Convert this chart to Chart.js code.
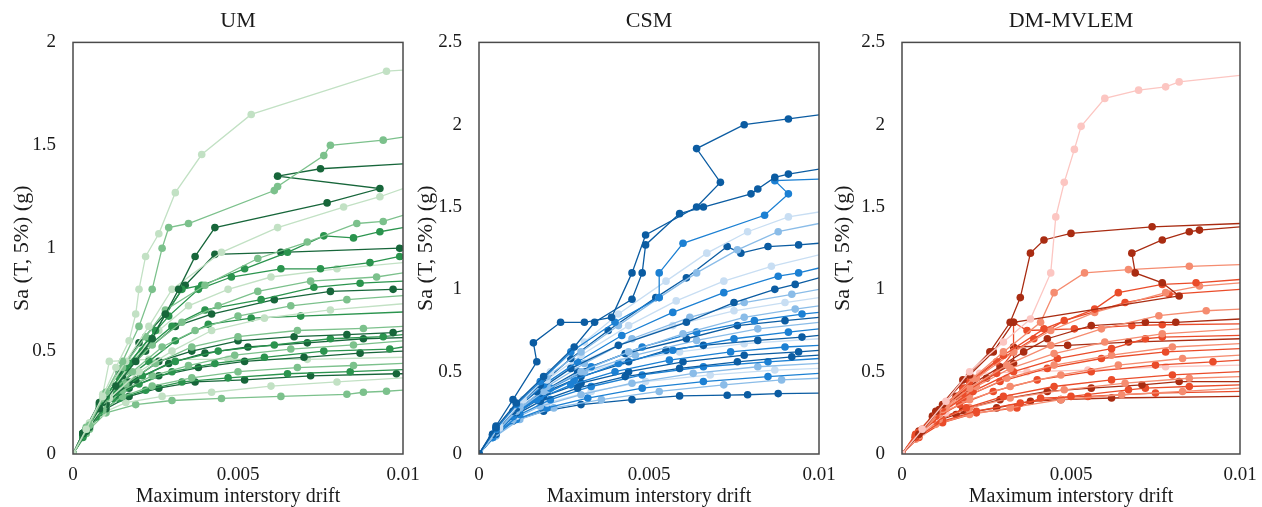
<!DOCTYPE html>
<html>
<head>
<meta charset="utf-8">
<script src="https://cdn.jsdelivr.net/npm/chart.js@4.4.1/dist/chart.umd.min.js"></script>
<style>
  html, body { margin: 0; padding: 0; background: #fff; }
  #wrap { position: relative; width: 1262px; height: 507px; overflow: hidden; }
  .panel { position: absolute; top: 0; height: 507px; }
</style>
</head>
<body>
<div id="wrap">
  <div class="panel" style="left:0;width:420px"><canvas id="um" width="420" height="507"></canvas></div>
  <div class="panel" style="left:410px;width:430px"><canvas id="csm" width="430" height="507"></canvas></div>
  <div class="panel" style="left:830px;width:432px"><canvas id="dm" width="432" height="507"></canvas></div>
</div>
<script>
// tick values and labels
const xTicks = [0, 0.005, 0.01];
const xTickLabels = ['0', '0.005', '0.01'];
const umYTicks = [0, 0.5, 1, 1.5, 2];
const umYLabels = ['0', '0.5', '1', '1.5', '2'];
const wideYTicks = [0, 0.5, 1, 1.5, 2, 2.5];
const wideYLabels = ['0', '0.5', '1', '1.5', '2', '2.5'];

// IDA curves, [drift, Sa] pairs
const umCurves = [
  [[0,0],[0.0004,0.12],[0.0009,0.28],[0.0013,0.42],[0.0017,0.55],[0.0019,0.68],[0.002,0.8],[0.0022,0.96],[0.0026,1.07],[0.0031,1.27],[0.0039,1.455],[0.0054,1.65],[0.0095,1.86],[0.01,1.865]],
  [[0,0],[0.0005,0.14],[0.001,0.3],[0.0015,0.45],[0.002,0.62],[0.0024,0.8],[0.0027,1.0],[0.0029,1.1],[0.0035,1.12],[0.0061,1.28],[0.0062,1.3],[0.0076,1.45],[0.0078,1.5],[0.0094,1.525],[0.01,1.54]],
  [[0,0],[0.0003,0.1],[0.0008,0.22],[0.0013,0.33],[0.0019,0.45],[0.0024,0.56],[0.0028,0.68],[0.0032,0.8],[0.0037,0.96],[0.0043,1.1],[0.0077,1.22],[0.0093,1.29],[0.0062,1.35],[0.0075,1.386],[0.01,1.41]],
  [[0,0],[0.0005,0.15],[0.001,0.3],[0.0016,0.45],[0.0023,0.62],[0.003,0.8],[0.0045,0.98],[0.0062,1.1],[0.0082,1.2],[0.0093,1.25],[0.01,1.29]],
  [[0,0],[0.0004,0.13],[0.0009,0.27],[0.0015,0.42],[0.0022,0.57],[0.0028,0.7],[0.004,0.82],[0.0056,0.95],[0.0071,1.03],[0.0086,1.12],[0.0094,1.13],[0.01,1.16]],
  [[0,0],[0.0004,0.12],[0.001,0.28],[0.0017,0.44],[0.0025,0.6],[0.0033,0.8],[0.0039,0.82],[0.0052,0.9],[0.0065,0.98],[0.0076,1.06],[0.0085,1.05],[0.0093,1.08],[0.01,1.1]],
  [[0,0],[0.0003,0.1],[0.0008,0.25],[0.0014,0.4],[0.002,0.54],[0.0028,0.68],[0.0034,0.82],[0.0043,0.97],[0.0063,0.98],[0.0099,1.0],[0.01,1.01]],
  [[0,0],[0.0005,0.14],[0.001,0.28],[0.0016,0.42],[0.0023,0.56],[0.0029,0.67],[0.0038,0.8],[0.0048,0.86],[0.0063,0.9],[0.0075,0.9],[0.009,0.93],[0.0099,0.96],[0.01,0.97]],
  [[0,0],[0.0005,0.15],[0.0011,0.3],[0.0018,0.45],[0.0026,0.6],[0.0035,0.72],[0.0047,0.8],[0.006,0.86],[0.008,0.9],[0.01,0.93]],
  [[0,0],[0.0004,0.12],[0.0009,0.26],[0.0016,0.4],[0.0024,0.53],[0.0033,0.64],[0.0044,0.72],[0.0056,0.79],[0.0072,0.84],[0.0092,0.86],[0.01,0.88]],
  [[0,0],[0.0003,0.1],[0.0008,0.24],[0.0014,0.37],[0.0021,0.5],[0.003,0.62],[0.004,0.7],[0.0057,0.75],[0.0073,0.81],[0.0087,0.83],[0.01,0.84]],
  [[0,0],[0.0004,0.12],[0.0009,0.25],[0.0015,0.38],[0.0022,0.5],[0.0031,0.62],[0.0042,0.68],[0.0061,0.75],[0.0078,0.79],[0.0097,0.8],[0.01,0.8]],
  [[0,0],[0.0005,0.14],[0.001,0.27],[0.0018,0.4],[0.0027,0.52],[0.0037,0.6],[0.005,0.67],[0.0066,0.72],[0.0083,0.75],[0.01,0.77]],
  [[0,0],[0.0004,0.12],[0.0011,0.27],[0.002,0.4],[0.003,0.5],[0.0042,0.6],[0.0058,0.66],[0.0078,0.7],[0.01,0.73]],
  [[0,0],[0.0003,0.1],[0.0008,0.23],[0.0014,0.34],[0.0023,0.45],[0.0031,0.55],[0.0041,0.63],[0.0054,0.66],[0.0069,0.67],[0.01,0.69]],
  [[0,0],[0.0004,0.12],[0.0009,0.24],[0.0016,0.34],[0.0025,0.44],[0.0036,0.52],[0.005,0.57],[0.0068,0.6],[0.0088,0.61],[0.01,0.62]],
  [[0,0],[0.0004,0.11],[0.001,0.25],[0.0017,0.35],[0.0026,0.45],[0.0036,0.5],[0.005,0.55],[0.0067,0.57],[0.0083,0.58],[0.0097,0.59],[0.01,0.6]],
  [[0,0],[0.0003,0.09],[0.0008,0.21],[0.0013,0.3],[0.0021,0.38],[0.0031,0.45],[0.0044,0.5],[0.0061,0.53],[0.0078,0.56],[0.0094,0.57],[0.01,0.58]],
  [[0,0],[0.0005,0.13],[0.0011,0.27],[0.0019,0.36],[0.0029,0.44],[0.004,0.49],[0.0053,0.52],[0.0071,0.54],[0.0088,0.56],[0.01,0.565]],
  [[0,0],[0.0004,0.11],[0.0009,0.22],[0.0015,0.31],[0.0024,0.38],[0.0035,0.43],[0.0049,0.48],[0.0066,0.51],[0.0085,0.53],[0.01,0.55]],
  [[0,0],[0.0003,0.08],[0.0007,0.18],[0.0012,0.27],[0.002,0.34],[0.003,0.4],[0.0043,0.44],[0.0058,0.47],[0.0076,0.5],[0.0096,0.51],[0.01,0.52]],
  [[0,0],[0.0004,0.12],[0.001,0.24],[0.0017,0.32],[0.0026,0.38],[0.0038,0.42],[0.0052,0.45],[0.007,0.47],[0.0087,0.49],[0.01,0.5]],
  [[0,0],[0.0005,0.14],[0.0009,0.29],[0.0011,0.45],[0.0023,0.46],[0.0047,0.46],[0.0071,0.46],[0.01,0.47]],
  [[0,0],[0.0004,0.1],[0.0009,0.21],[0.0015,0.28],[0.0024,0.33],[0.0036,0.37],[0.005,0.4],[0.0068,0.42],[0.0085,0.43],[0.01,0.44]],
  [[0,0],[0.0003,0.09],[0.0008,0.2],[0.0014,0.27],[0.0022,0.31],[0.0033,0.35],[0.0047,0.37],[0.0065,0.39],[0.0084,0.4],[0.01,0.41]],
  [[0,0],[0.0004,0.11],[0.001,0.22],[0.0017,0.28],[0.0026,0.32],[0.0037,0.35],[0.0052,0.36],[0.0072,0.38],[0.0098,0.39],[0.01,0.39]],
  [[0,0],[0.0004,0.1],[0.0009,0.2],[0.0016,0.25],[0.0027,0.28],[0.0042,0.3],[0.006,0.33],[0.008,0.35],[0.01,0.37]],
  [[0,0],[0.0005,0.12],[0.001,0.2],[0.0019,0.24],[0.003,0.26],[0.0045,0.27],[0.0063,0.28],[0.0083,0.29],[0.0088,0.3],[0.0095,0.305],[0.01,0.31]]
];

const csmCurves = [
  [[0,0],[0.0005,0.17],[0.001,0.33],[0.0017,0.56],[0.0016,0.675],[0.0024,0.8],[0.0031,0.8],[0.0039,0.83],[0.0045,1.1],[0.0049,1.33],[0.0064,1.5],[0.0071,1.65],[0.0064,1.855],[0.0078,2.0],[0.0091,2.035],[0.01,2.06]],
  [[0,0],[0.0005,0.16],[0.0011,0.31],[0.0019,0.47],[0.0028,0.65],[0.0034,0.8],[0.0045,0.94],[0.0048,1.1],[0.0049,1.27],[0.0059,1.46],[0.0066,1.5],[0.008,1.58],[0.0082,1.61],[0.0087,1.68],[0.0091,1.7],[0.01,1.73]],
  [[0,0],[0.0005,0.15],[0.0011,0.3],[0.0018,0.44],[0.0027,0.62],[0.004,0.8],[0.0053,0.95],[0.0053,1.1],[0.006,1.28],[0.0084,1.45],[0.0091,1.58],[0.0087,1.66],[0.01,1.67]],
  [[0,0],[0.0006,0.17],[0.0013,0.33],[0.0021,0.5],[0.0031,0.68],[0.0041,0.85],[0.0055,1.05],[0.0067,1.22],[0.0079,1.35],[0.0091,1.44],[0.01,1.47]],
  [[0,0],[0.0005,0.15],[0.0012,0.3],[0.002,0.47],[0.003,0.62],[0.0041,0.78],[0.0053,0.95],[0.0064,1.1],[0.0076,1.24],[0.0088,1.35],[0.01,1.4]],
  [[0,0],[0.0005,0.14],[0.0011,0.28],[0.0018,0.42],[0.0027,0.58],[0.0038,0.75],[0.0052,0.95],[0.0061,1.07],[0.0073,1.26],[0.0077,1.22],[0.0085,1.26],[0.0094,1.27],[0.01,1.28]],
  [[0,0],[0.0006,0.16],[0.0012,0.3],[0.002,0.45],[0.003,0.6],[0.0044,0.78],[0.0058,0.93],[0.0072,1.05],[0.0086,1.14],[0.01,1.21]],
  [[0,0],[0.0005,0.15],[0.0011,0.28],[0.0019,0.42],[0.0029,0.56],[0.0042,0.72],[0.0057,0.86],[0.0072,0.98],[0.0088,1.08],[0.0094,1.1],[0.01,1.13]],
  [[0,0],[0.0004,0.12],[0.001,0.26],[0.0017,0.38],[0.0027,0.52],[0.0041,0.66],[0.0061,0.8],[0.0075,0.92],[0.0087,1.0],[0.0093,1.03],[0.01,1.07]],
  [[0,0],[0.0005,0.14],[0.0012,0.28],[0.002,0.41],[0.0031,0.55],[0.0045,0.7],[0.0062,0.83],[0.0078,0.92],[0.0092,0.97],[0.01,1.0]],
  [[0,0],[0.0006,0.16],[0.0011,0.3],[0.0019,0.42],[0.0028,0.54],[0.0041,0.66],[0.0057,0.78],[0.0075,0.87],[0.009,0.92],[0.01,0.95]],
  [[0,0],[0.0005,0.13],[0.0011,0.26],[0.0019,0.38],[0.003,0.5],[0.0044,0.62],[0.006,0.73],[0.0078,0.83],[0.0093,0.88],[0.01,0.9]],
  [[0,0],[0.0005,0.13],[0.0012,0.27],[0.0021,0.4],[0.0033,0.53],[0.0048,0.65],[0.0064,0.74],[0.0081,0.81],[0.0095,0.85],[0.01,0.86]],
  [[0,0],[0.0004,0.12],[0.001,0.25],[0.0018,0.37],[0.0029,0.5],[0.0043,0.61],[0.0061,0.7],[0.0076,0.78],[0.009,0.81],[0.01,0.83]],
  [[0,0],[0.0006,0.15],[0.0012,0.28],[0.002,0.39],[0.0031,0.5],[0.0046,0.6],[0.0064,0.69],[0.0082,0.76],[0.01,0.8]],
  [[0,0],[0.0004,0.11],[0.001,0.24],[0.0018,0.35],[0.0028,0.45],[0.0041,0.55],[0.0057,0.63],[0.0075,0.7],[0.0091,0.74],[0.01,0.76]],
  [[0,0],[0.0005,0.13],[0.0012,0.27],[0.002,0.38],[0.003,0.47],[0.0044,0.56],[0.0055,0.63],[0.0066,0.66],[0.0082,0.69],[0.0095,0.71],[0.01,0.72]],
  [[0,0],[0.0005,0.14],[0.0012,0.28],[0.0019,0.39],[0.0029,0.48],[0.0042,0.56],[0.0059,0.62],[0.0078,0.67],[0.01,0.7]],
  [[0,0],[0.0004,0.1],[0.001,0.23],[0.0017,0.33],[0.0027,0.42],[0.004,0.5],[0.0056,0.57],[0.0074,0.62],[0.009,0.65],[0.01,0.66]],
  [[0,0],[0.0005,0.12],[0.0011,0.25],[0.0019,0.35],[0.003,0.43],[0.0044,0.5],[0.006,0.56],[0.0078,0.6],[0.0094,0.62],[0.01,0.63]],
  [[0,0],[0.0004,0.11],[0.001,0.23],[0.0018,0.32],[0.0029,0.4],[0.0043,0.47],[0.0059,0.52],[0.0076,0.56],[0.0092,0.59],[0.01,0.6]],
  [[0,0],[0.0005,0.12],[0.0012,0.24],[0.0021,0.33],[0.0033,0.41],[0.0048,0.48],[0.0066,0.53],[0.0085,0.56],[0.01,0.58]],
  [[0,0],[0.0004,0.1],[0.001,0.21],[0.0018,0.29],[0.003,0.36],[0.0045,0.43],[0.0063,0.49],[0.0082,0.53],[0.01,0.55]],
  [[0,0],[0.0005,0.12],[0.0011,0.23],[0.002,0.31],[0.0033,0.38],[0.0049,0.44],[0.0068,0.48],[0.0087,0.51],[0.01,0.52]],
  [[0,0],[0.0004,0.1],[0.0011,0.21],[0.002,0.28],[0.0032,0.34],[0.0048,0.4],[0.0066,0.44],[0.0085,0.47],[0.01,0.49]],
  [[0,0],[0.0005,0.11],[0.0012,0.21],[0.0022,0.28],[0.0036,0.33],[0.0053,0.38],[0.0072,0.42],[0.0089,0.45],[0.01,0.46]],
  [[0,0],[0.0004,0.1],[0.001,0.2],[0.0019,0.26],[0.003,0.3],[0.0045,0.33],[0.0059,0.353],[0.0073,0.357],[0.0079,0.36],[0.0088,0.367],[0.01,0.37]]
];

const dmCurves = [
  [[0,0],[0.0006,0.15],[0.0013,0.32],[0.002,0.5],[0.003,0.68],[0.0038,0.82],[0.0044,1.1],[0.00455,1.44],[0.0048,1.65],[0.0051,1.85],[0.0053,1.99],[0.006,2.16],[0.007,2.21],[0.0078,2.23],[0.0082,2.26],[0.01,2.3]],
  [[0,0],[0.0005,0.12],[0.001,0.26],[0.0018,0.45],[0.0026,0.62],[0.0032,0.8],[0.0035,0.95],[0.0038,1.22],[0.0042,1.3],[0.005,1.34],[0.0074,1.38],[0.01,1.4]],
  [[0,0],[0.0006,0.14],[0.0012,0.3],[0.002,0.48],[0.0027,0.62],[0.0033,0.8],[0.0082,0.96],[0.0077,1.04],[0.0069,1.1],[0.0068,1.22],[0.0077,1.3],[0.0085,1.35],[0.0088,1.36],[0.01,1.38]],
  [[0,0],[0.0006,0.15],[0.0013,0.3],[0.0021,0.46],[0.003,0.62],[0.0041,0.8],[0.0045,0.98],[0.0054,1.1],[0.0067,1.12],[0.0085,1.14],[0.01,1.15]],
  [[0,0],[0.0005,0.13],[0.0012,0.28],[0.002,0.44],[0.003,0.6],[0.0042,0.76],[0.0057,0.88],[0.0064,0.98],[0.0077,1.03],[0.0087,1.04],[0.01,1.06]],
  [[0,0],[0.0006,0.15],[0.0013,0.3],[0.0022,0.46],[0.0033,0.62],[0.0044,0.75],[0.0057,0.86],[0.0078,0.98],[0.0088,1.02],[0.01,1.04]],
  [[0,0],[0.0004,0.12],[0.001,0.25],[0.0018,0.4],[0.0028,0.56],[0.0039,0.7],[0.0048,0.81],[0.0066,0.92],[0.0079,0.97],[0.01,1.0]],
  [[0,0],[0.0005,0.13],[0.0012,0.27],[0.002,0.4],[0.0031,0.54],[0.0044,0.66],[0.0059,0.76],[0.0076,0.84],[0.009,0.87],[0.01,0.88]],
  [[0,0],[0.0005,0.14],[0.0011,0.27],[0.0019,0.4],[0.0029,0.53],[0.0036,0.62],[0.0043,0.7],[0.0056,0.78],[0.0072,0.8],[0.0081,0.8],[0.01,0.82]],
  [[0,0],[0.0004,0.11],[0.001,0.24],[0.0018,0.37],[0.0028,0.49],[0.0033,0.62],[0.0033,0.8],[0.0037,0.75],[0.0051,0.76],[0.0068,0.78],[0.0077,0.785],[0.01,0.79]],
  [[0,0],[0.0006,0.14],[0.0013,0.28],[0.0022,0.41],[0.0032,0.52],[0.0045,0.61],[0.006,0.68],[0.0077,0.73],[0.01,0.76]],
  [[0,0],[0.0005,0.12],[0.0012,0.26],[0.0021,0.38],[0.0033,0.5],[0.0046,0.58],[0.0062,0.64],[0.0072,0.7],[0.0077,0.71],[0.01,0.72]],
  [[0,0],[0.0004,0.11],[0.0009,0.23],[0.0016,0.35],[0.0025,0.46],[0.0033,0.55],[0.0033,0.65],[0.0049,0.66],[0.0067,0.68],[0.01,0.7]],
  [[0,0],[0.0005,0.13],[0.0011,0.25],[0.002,0.36],[0.0031,0.46],[0.0045,0.54],[0.0062,0.6],[0.008,0.65],[0.01,0.67]],
  [[0,0],[0.0004,0.11],[0.001,0.23],[0.0018,0.34],[0.0029,0.44],[0.0043,0.52],[0.0059,0.58],[0.0078,0.62],[0.01,0.64]],
  [[0,0],[0.0005,0.12],[0.0011,0.24],[0.002,0.33],[0.0032,0.41],[0.0047,0.48],[0.0064,0.54],[0.0083,0.58],[0.01,0.6]],
  [[0,0],[0.0004,0.1],[0.0009,0.21],[0.0017,0.3],[0.0027,0.38],[0.004,0.45],[0.0056,0.5],[0.0075,0.54],[0.0092,0.56],[0.01,0.57]],
  [[0,0],[0.0006,0.13],[0.0013,0.25],[0.0019,0.38],[0.0023,0.49],[0.0037,0.5],[0.0055,0.51],[0.0078,0.53],[0.01,0.54]],
  [[0,0],[0.0004,0.1],[0.001,0.2],[0.0019,0.28],[0.003,0.35],[0.0045,0.41],[0.0062,0.45],[0.008,0.48],[0.01,0.5]],
  [[0,0],[0.0005,0.11],[0.0011,0.21],[0.002,0.28],[0.0032,0.34],[0.0048,0.39],[0.0066,0.43],[0.0085,0.46],[0.01,0.47]],
  [[0,0],[0.0004,0.1],[0.0009,0.2],[0.0018,0.27],[0.0029,0.33],[0.0043,0.38],[0.0056,0.4],[0.0071,0.42],[0.0082,0.44],[0.01,0.44]],
  [[0,0],[0.0005,0.11],[0.0012,0.2],[0.0022,0.26],[0.0035,0.31],[0.005,0.35],[0.0067,0.39],[0.0072,0.4],[0.0085,0.41],[0.01,0.42]],
  [[0,0],[0.0004,0.09],[0.001,0.18],[0.002,0.24],[0.0032,0.28],[0.0047,0.33],[0.0065,0.36],[0.0083,0.38],[0.01,0.4]],
  [[0,0],[0.0005,0.1],[0.0012,0.19],[0.0022,0.25],[0.0034,0.28],[0.0041,0.34],[0.0055,0.35],[0.0075,0.37],[0.01,0.38]],
  [[0,0],[0.0004,0.1],[0.0009,0.19],[0.0016,0.24],[0.0028,0.28],[0.0038,0.32],[0.0047,0.33],[0.0062,0.34],[0.01,0.35]]
];

// shade index per curve (0 darkest .. 3 lightest)
const umShade  = [3,2,0,3,2,1,0,1,3,2,1,0,2,3,1,2,0,1,0,2,1,0,3,2,1,0,3,2];
const csmShade = [0,0,1,3,2,0,3,1,0,2,3,2,1,0,2,1,0,3,1,0,0,1,2,3,1,2,0];
const dmShade  = [3,0,0,2,1,2,1,2,0,1,2,1,0,2,1,2,1,3,1,2,0,1,2,1,0];

const greens = ['#17663a', '#2b944e', '#7cc18c', '#c2e1c4'];
const blues  = ['#0b5ca2', '#1c80d3', '#8abce8', '#c8def3'];
const reds   = ['#a92c12', '#ea4c2a', '#f58c70', '#fcc6c2'];

const serif = "'Liberation Serif', 'DejaVu Serif', serif";
const ink = '#1a1a1a';

const frame = {
  id: 'frame',
  afterDatasetsDraw(chart) {
    const a = chart.chartArea, ctx = chart.ctx;
    ctx.save();
    ctx.strokeStyle = '#4a4a4a';
    ctx.lineWidth = 1.5;
    ctx.strokeRect(a.left, a.top, a.right - a.left, a.bottom - a.top);
    ctx.restore();
  }
};

function makePanel(id, title, curves, shade, palette, yTicks, yLabels, plotLeft, padRight, yTitlePad) {
  const datasets = curves.map((c, i) => ({
    data: c.map(p => ({ x: p[0], y: p[1] })),
    showLine: true,
    borderColor: palette[shade[i]],
    backgroundColor: palette[shade[i]],
    borderWidth: 1.3,
    pointRadius: c.map(p => p[0] >= 0.01 ? 0 : 3.8),
    pointBorderWidth: 0,
    tension: 0
  }));
  new Chart(document.getElementById(id), {
    type: 'scatter',
    data: { datasets },
    options: {
      responsive: false,
      animation: false,
      layout: { padding: { left: 0, right: padRight, top: 1, bottom: 0 } },
      plugins: {
        legend: { display: false },
        tooltip: { enabled: false },
        title: {
          display: true, text: title, fullSize: false, color: ink,
          font: { family: serif, size: 22, weight: 'normal' },
          padding: { top: 7, bottom: 8 }
        }
      },
      scales: {
        x: {
          type: 'linear', min: 0, max: 0.01,
          afterBuildTicks: s => { s.ticks = xTicks.map(v => ({ value: v })); },
          afterFit: s => { s.height = 53; s.paddingLeft = 0; s.paddingRight = 0; },
          ticks: {
            autoSkip: false, maxRotation: 0, padding: 10, color: ink,
            font: { family: serif, size: 19 },
            callback: v => xTickLabels[xTicks.indexOf(v)]
          },
          grid: { display: false, drawTicks: false },
          border: { display: false },
          title: {
            display: true, text: 'Maximum interstory drift', color: ink,
            font: { family: serif, size: 20, lineHeight: 1 }, padding: { top: 0, bottom: 0 }
          }
        },
        y: {
          type: 'linear', min: 0, max: yTicks[yTicks.length - 1],
          afterBuildTicks: s => { s.ticks = yTicks.map(v => ({ value: v })); },
          afterFit: s => { s.width = plotLeft; s.paddingTop = 0; s.paddingBottom = 0; },
          ticks: {
            autoSkip: false, padding: 17, color: ink,
            font: { family: serif, size: 19 },
            callback: v => yLabels[yTicks.indexOf(v)]
          },
          grid: { display: false, drawTicks: false },
          border: { display: false },
          title: {
            display: true, text: 'Sa (T, 5%) (g)', color: ink,
            font: { family: serif, size: 22, lineHeight: 1 }, padding: { top: yTitlePad, bottom: 0 }
          }
        }
      }
    },
    plugins: [frame]
  });
}

makePanel('um', 'UM', umCurves, umShade, greens, umYTicks, umYLabels, 73, 17, 11);
makePanel('csm', 'CSM', csmCurves, csmShade, blues, wideYTicks, wideYLabels, 69, 21, 5);
makePanel('dm', 'DM-MVLEM', dmCurves, dmShade, reds, wideYTicks, wideYLabels, 72, 22, 2);
</script>
</body>
</html>
